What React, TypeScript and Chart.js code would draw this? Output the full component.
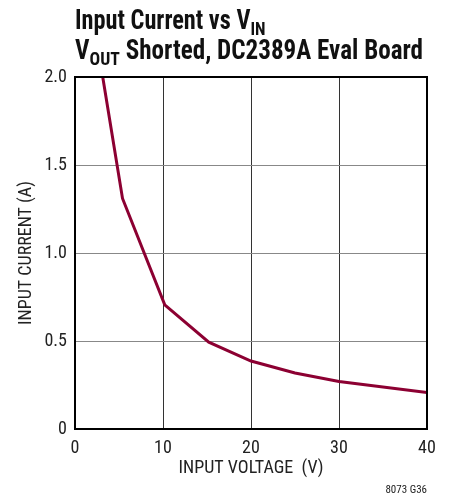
import React, { useEffect, useRef } from "react";
import { Chart, registerables } from "chart.js";

Chart.register(...registerables);

const inputVoltage = [3.15, 5.4, 10.2, 15.2, 20, 25, 30, 40];
const inputCurrent = [2.0, 1.31, 0.705, 0.493, 0.386, 0.318, 0.27, 0.208];
const xTicks = [0, 10, 20, 30, 40];
const yTicks = [0, 0.5, 1.0, 1.5, 2.0];

const FONT = '"Liberation Sans Narrow", "Roboto Condensed", "Arial Narrow", "Liberation Sans", sans-serif';

const framePlugin = {
  id: "frame",
  afterDraw(chart: any) {
    const { ctx, chartArea } = chart;
    ctx.save();
    ctx.strokeStyle = "#000";
    ctx.lineWidth = 2;
    ctx.strokeRect(chartArea.left, chartArea.top, chartArea.right - chartArea.left, chartArea.bottom - chartArea.top);
    ctx.restore();
  },
};

export default function App() {
  const ref = useRef<HTMLCanvasElement | null>(null);
  useEffect(() => {
    if (!ref.current) return;
    const chart = new Chart(ref.current, {
      type: "line",
      data: {
        datasets: [
          {
            data: inputVoltage.map((x, i) => ({ x, y: inputCurrent[i] })),
            borderColor: "#8c0032",
            borderWidth: 3,
            pointRadius: 0,
            tension: 0,
            fill: false,
          },
        ],
      },
      options: {
        animation: false,
        responsive: false,
        maintainAspectRatio: false,
        layout: { padding: { top: 77, right: 24, left: 0, bottom: 0 } },
        plugins: { legend: { display: false }, tooltip: { enabled: false } },
        scales: {
          x: {
            type: "linear",
            min: 0,
            max: 40,
            afterBuildTicks: (s: any) => {
              s.ticks = xTicks.map((v) => ({ value: v }));
            },
            afterFit: (s: any) => {
              s.height = 70;
            },
            grid: { color: "#333", lineWidth: 1, drawTicks: false },
            border: { display: false },
            ticks: {
              color: "#222",
              padding: 9,
              font: { family: FONT, size: 18 },
              callback: (v: any) => String(v),
            },
            title: {
              display: true,
              text: "INPUT VOLTAGE  (V)",
              color: "#222",
              font: { family: FONT, size: 18 },
              padding: { top: 0, bottom: 20 },
            },
          },
          y: {
            type: "linear",
            min: 0,
            max: 2,
            afterBuildTicks: (s: any) => {
              s.ticks = yTicks.map((v) => ({ value: v }));
            },
            afterFit: (s: any) => {
              s.width = 75;
            },
            grid: { color: "#888", lineWidth: 1, drawTicks: false },
            border: { display: false },
            ticks: {
              color: "#222",
              padding: 8,
              font: { family: FONT, size: 18 },
              callback: (v: any) => (v === 0 ? "0" : Number(v).toFixed(1)),
            },
            title: {
              display: true,
              text: "INPUT CURRENT (A)",
              color: "#222",
              font: { family: FONT, size: 18 },
              padding: { top: 16, bottom: 0 },
            },
          },
        },
      },
      plugins: [framePlugin],
    });
    return () => chart.destroy();
  }, []);

  const titleStyle: React.CSSProperties = {
    position: "absolute",
    left: 75,
    fontFamily: FONT,
    fontWeight: "bold",
    fontSize: 27,
    color: "#111",
    whiteSpace: "nowrap",
    lineHeight: "28px",
    transformOrigin: "left top",
  };
  const subStyle: React.CSSProperties = { fontSize: 19, verticalAlign: "-6px", lineHeight: "0" };

  return (
    <div style={{ position: "absolute", left: 0, top: 0, width: 451, height: 499, background: "#fff" }}>
      <canvas ref={ref} width={451} height={499} style={{ position: "absolute", left: 0, top: 0 }} />
      <div style={{ ...titleStyle, top: 6, transform: "scaleX(0.9)" }}>
        Input Current vs V<span style={subStyle}>IN</span>
      </div>
      <div style={{ ...titleStyle, top: 36, transform: "scaleX(0.93)" }}>
        V<span style={subStyle}>OUT</span> Shorted, DC2389A Eval Board
      </div>
      <div
        style={{
          position: "absolute",
          right: 24,
          top: 483,
          fontFamily: FONT,
          fontSize: 11,
          color: "#222",
        }}
      >
        8073 G36
      </div>
    </div>
  );
}
